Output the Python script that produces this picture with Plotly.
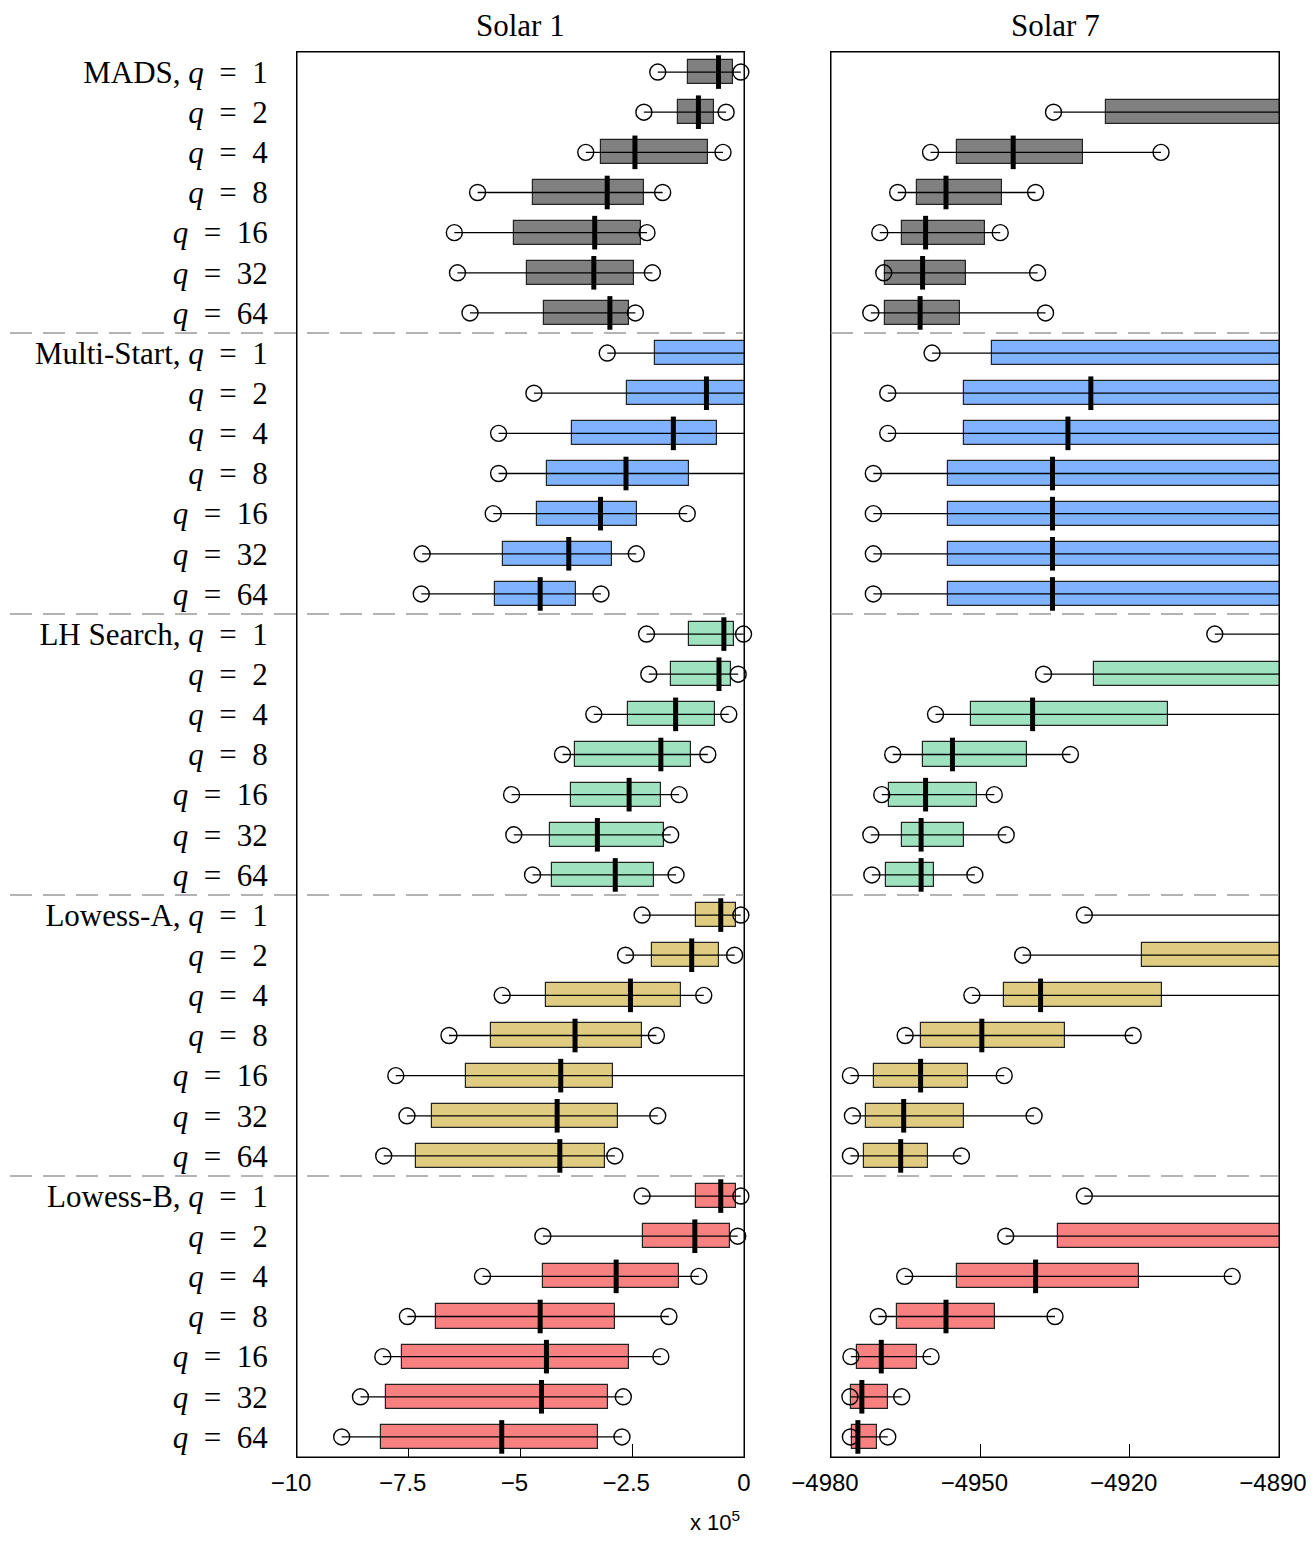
import plotly.graph_objects as go
from plotly.subplots import make_subplots

groups = ["MADS", "Multi-Start", "LH Search", "Lowess-A", "Lowess-B"]
q_values = [1, 2, 4, 8, 16, 32, 64]
group_colors = ["#808080", "#80b3ff", "#9fe2bf", "#dfcc80", "#f78181"]
panel_titles = ["Solar 1", "Solar 7"]

# ---------------- Solar 1 (units of 1e5) ----------------
s1_min = {
    "MADS":        [-1.93, -2.24, -3.54, -5.96, -6.48, -6.41, -6.13],
    "Multi-Start": [-3.06, -4.70, -5.49, -5.49, -5.61, -7.20, -7.22],
    "LH Search":   [-2.18, -2.13, -3.36, -4.06, -5.20, -5.15, -4.73],
    "Lowess-A":    [-2.28, -2.65, -5.41, -6.60, -7.79, -7.54, -8.06],
    "Lowess-B":    [-2.28, -4.50, -5.85, -7.53, -8.08, -8.58, -9.00],
}
s1_q1 = {
    "MADS":        [-1.25, -1.48, -3.19, -4.73, -5.14, -4.86, -4.47],
    "Multi-Start": [-1.98, -2.61, -3.84, -4.41, -4.62, -5.40, -5.58],
    "LH Search":   [-1.24, -1.64, -2.59, -3.78, -3.87, -4.33, -4.30],
    "Lowess-A":    [-1.07, -2.06, -4.44, -5.67, -6.23, -6.99, -7.34],
    "Lowess-B":    [-1.07, -2.27, -4.50, -6.88, -7.64, -8.02, -8.13],
}
s1_med = {
    "MADS":        [-0.57, -1.02, -2.44, -3.06, -3.34, -3.36, -3.00],
    "Multi-Start": [0.10, -0.84, -1.58, -2.64, -3.21, -3.92, -4.56],
    "LH Search":   [-0.45, -0.56, -1.53, -1.86, -2.57, -3.28, -2.88],
    "Lowess-A":    [-0.52, -1.17, -2.54, -3.78, -4.10, -4.18, -4.12],
    "Lowess-B":    [-0.52, -1.10, -2.86, -4.56, -4.42, -4.53, -5.42],
}
s1_q3 = {
    "MADS":        [-0.24, -0.67, -0.81, -2.24, -2.30, -2.46, -2.58],
    "Multi-Start": [0.40, 0.20, -0.61, -1.22, -2.39, -2.95, -3.76],
    "LH Search":   [-0.22, -0.30, -0.64, -1.18, -1.86, -1.80, -2.02],
    "Lowess-A":    [-0.19, -0.57, -1.42, -2.29, -2.94, -2.81, -3.10],
    "Lowess-B":    [-0.19, -0.31, -1.45, -2.89, -2.58, -3.04, -3.26],
}
s1_max = {
    "MADS":        [-0.07, -0.40, -0.47, -1.82, -2.17, -2.05, -2.43],
    "Multi-Start": [0.80, 0.60, 0.30, 0.30, -1.27, -2.41, -3.20],
    "LH Search":   [-0.01, -0.13, -0.34, -0.81, -1.45, -1.64, -1.52],
    "Lowess-A":    [-0.07, -0.21, -0.90, -1.96, 0.30, -1.93, -2.89],
    "Lowess-B":    [-0.07, -0.14, -1.01, -1.68, -1.86, -2.70, -2.73],
}

# ---------------- Solar 7 ----------------
s7_min = {
    "MADS":        [-4885.0, -4935.3, -4960.0, -4966.6, -4970.2, -4969.4, -4972.0],
    "Multi-Start": [-4959.7, -4968.6, -4968.6, -4971.5, -4971.5, -4971.5, -4971.5],
    "LH Search":   [-4902.9, -4937.3, -4959.0, -4967.6, -4969.8, -4972.0, -4971.8],
    "Lowess-A":    [-4929.1, -4941.5, -4951.7, -4965.1, -4976.1, -4975.7, -4976.1],
    "Lowess-B":    [-4929.1, -4944.9, -4965.2, -4970.5, -4976.0, -4976.2, -4976.1],
}
s7_q1 = {
    "MADS":        [-4880.0, -4924.8, -4954.7, -4962.7, -4965.8, -4969.1, -4969.2],
    "Multi-Start": [-4947.7, -4953.2, -4953.3, -4956.5, -4956.5, -4956.5, -4956.5],
    "LH Search":   [-4885.0, -4927.2, -4951.9, -4961.5, -4968.4, -4965.8, -4968.9],
    "Lowess-A":    [-4885.0, -4917.5, -4945.2, -4962.0, -4971.3, -4973.0, -4973.4],
    "Lowess-B":    [-4885.0, -4934.4, -4954.6, -4966.8, -4974.8, -4976.0, -4975.7],
}
s7_med = {
    "MADS":        [-4870.0, -4885.0, -4943.4, -4956.9, -4961.0, -4961.6, -4962.1],
    "Multi-Start": [-4885.0, -4927.8, -4932.4, -4935.5, -4935.5, -4935.5, -4935.5],
    "LH Search":   [-4875.0, -4885.0, -4939.5, -4955.6, -4961.0, -4961.9, -4961.9],
    "Lowess-A":    [-4875.0, -4885.0, -4937.9, -4949.7, -4962.0, -4965.4, -4966.0],
    "Lowess-B":    [-4875.0, -4885.0, -4938.9, -4956.9, -4969.9, -4973.8, -4974.6],
}
s7_q3 = {
    "MADS":        [-4860.0, -4875.0, -4929.3, -4945.6, -4949.1, -4952.8, -4954.1],
    "Multi-Start": [-4870.0, -4875.0, -4878.0, -4880.0, -4880.0, -4880.0, -4880.0],
    "LH Search":   [-4865.0, -4875.0, -4912.2, -4940.6, -4950.6, -4953.2, -4959.4],
    "Lowess-A":    [-4865.0, -4875.0, -4913.5, -4933.0, -4952.5, -4953.2, -4960.5],
    "Lowess-B":    [-4865.0, -4875.0, -4918.1, -4947.1, -4962.7, -4968.5, -4970.7],
}
s7_max = {
    "MADS":        [-4850.0, -4860.0, -4913.7, -4938.9, -4946.0, -4938.5, -4936.9],
    "Multi-Start": [-4850.0, -4855.0, -4860.0, -4865.0, -4865.0, -4865.0, -4865.0],
    "LH Search":   [-4850.0, -4860.0, -4880.0, -4931.9, -4947.2, -4944.8, -4951.1],
    "Lowess-A":    [-4850.0, -4860.0, -4880.0, -4919.3, -4945.2, -4939.2, -4953.8],
    "Lowess-B":    [-4850.0, -4860.0, -4899.4, -4935.0, -4959.9, -4965.8, -4968.6],
}

s1_ticks = [-10, -7.5, -5, -2.5, 0]
s1_ticklabels = ["\u221210", "\u22127.5", "\u22125", "\u22122.5", "0"]
s7_ticks = [-4980, -4950, -4920, -4890]
s7_ticklabels = ["\u22124980", "\u22124950", "\u22124920", "\u22124890"]
s1_range = [-10, 0]
s7_range = [-4980, -4890]

panels = [
    (s1_min, s1_q1, s1_med, s1_q3, s1_max, s1_range),
    (s7_min, s7_q1, s7_med, s7_q3, s7_max, s7_range),
]

# page has an 8px body margin, so the figure is sized/placed to compensate
W, H = 1299, 1527
fig = make_subplots(rows=1, cols=2, horizontal_spacing=0.05)

SP = "\u2002"
nq = len(q_values)
row_labels = []
for g in groups:
    for i, q in enumerate(q_values):
        lab = f"<i>q</i>{SP}={SP}{q}"
        row_labels.append(f"{g}, {lab}" if i == 0 else lab)
row_pos = list(range(1, len(groups) * nq + 1))


def pad_minus(lbls):
    # centre the digits on the tick, letting the minus sign hang to the left
    return [t + "\u2002" if t.startswith("\u2212") else t for t in lbls]


for p, (mn, lo, md, hi, mx, rng) in enumerate(panels):
    col = p + 1
    for gi, g in enumerate(groups):
        ys = row_pos[gi * nq:(gi + 1) * nq]
        # boxes
        fig.add_trace(go.Bar(
            y=ys, base=lo[g], x=[h - l for h, l in zip(hi[g], lo[g])],
            orientation="h", width=0.6,
            marker=dict(color=group_colors[gi], line=dict(color="#222222", width=1.2)),
            showlegend=False, hoverinfo="skip"), row=1, col=col)
        # whiskers
        wx, wy = [], []
        for y, a, b in zip(ys, mn[g], mx[g]):
            wx += [a, b, None]
            wy += [y, y, None]
        fig.add_trace(go.Scatter(x=wx, y=wy, mode="lines",
                                 line=dict(color="black", width=1.3),
                                 showlegend=False, hoverinfo="skip", cliponaxis=True),
                      row=1, col=col)
        # medians
        fig.add_trace(go.Scatter(x=md[g], y=ys, mode="markers",
                                 marker=dict(symbol="line-ns", size=24, color="black",
                                             line=dict(color="black", width=5)),
                                 showlegend=False, hoverinfo="skip", cliponaxis=True),
                      row=1, col=col)
        # whisker end circles (only those inside the axis range)
        cx, cy = [], []
        for y, a, b in zip(ys, mn[g], mx[g]):
            for v in (a, b):
                if rng[0] <= v <= rng[1]:
                    cx.append(v)
                    cy.append(y)
        fig.add_trace(go.Scatter(x=cx, y=cy, mode="markers",
                                 marker=dict(symbol="circle-open", size=16, color="black",
                                             line=dict(color="black", width=1.4)),
                                 showlegend=False, hoverinfo="skip", cliponaxis=False),
                      row=1, col=col)

dom1 = [289 / W, 736 / W]
dom2 = [823 / W, 1271 / W]
top, bottom = 44, 1449

serif = "Liberation Serif, Times New Roman, serif"
sans = "Liberation Sans, Arial, sans-serif"

xaxis_common = dict(showgrid=False, zeroline=False, showline=True, mirror=True,
                    linecolor="black", linewidth=1, ticks="inside", ticklen=13,
                    tickwidth=1, tickcolor="black", layer="below traces", automargin=False,
                    ticklabelstandoff=4, ticklabeloverflow="allow",
                    tickfont=dict(family=sans, size=24, color="black"))
fig.update_xaxes(**xaxis_common)
fig.update_layout(
    xaxis=dict(domain=dom1, range=s1_range, tickvals=s1_ticks, ticktext=pad_minus(s1_ticklabels)),
    xaxis2=dict(domain=dom2, range=s7_range, tickvals=s7_ticks, ticktext=s7_ticklabels,
                ticklabelshift=-6),
)
yaxis_common = dict(showgrid=False, zeroline=False, showline=True, mirror=True,
                    linecolor="black", linewidth=1, ticks="", range=[35.5, 0.5],
                    layer="below traces", automargin=False, domain=[0, 1])
fig.update_yaxes(**yaxis_common)
fig.update_layout(
    yaxis=dict(tickvals=row_pos, ticktext=row_labels, ticklabelstandoff=22,
               tickfont=dict(family=serif, size=31, color="black")),
    yaxis2=dict(showticklabels=False),
)

# frames drawn above the data
shapes = []
for xr, yr in (("x domain", "y domain"), ("x2 domain", "y2 domain")):
    shapes.append(dict(type="rect", xref=xr, yref=yr, x0=0, x1=1, y0=0, y1=1,
                       line=dict(color="black", width=1), layer="above"))
# group separators
for k in range(1, len(groups)):
    ysep = k * nq + 0.5
    shapes.append(dict(type="line", xref="paper", yref="y", x0=2 / W, x1=dom1[1],
                       y0=ysep, y1=ysep, line=dict(color="#9a9a9a", width=1.5, dash="22px,11px"),
                       layer="above"))
    shapes.append(dict(type="line", xref="x2 domain", yref="y2", x0=0, x1=1,
                       y0=ysep, y1=ysep, line=dict(color="#9a9a9a", width=1.5, dash="22px,11px"),
                       layer="above"))

annotations = []
for t, xr in zip(panel_titles, ("x domain", "x2 domain")):
    annotations.append(dict(text=t, xref=xr, yref="paper", x=0.5, y=1, yshift=27,
                            xanchor="center", yanchor="middle", showarrow=False,
                            font=dict(family=serif, size=31, color="black")))
annotations.append(dict(text="x 10<sup>5</sup>", xref="x domain", yref="paper", x=0.935, y=0,
                        yshift=-64, xanchor="center", yanchor="middle", showarrow=False,
                        font=dict(family=sans, size=22, color="black")))

fig.update_layout(
    width=W, height=H,
    margin=dict(l=0, r=0, t=top, b=H - bottom, pad=0, autoexpand=False),
    paper_bgcolor="white", plot_bgcolor="white",
    barmode="overlay", bargap=0,
    shapes=shapes, annotations=annotations,
    showlegend=False,
)

fig.write_html("out.html")
